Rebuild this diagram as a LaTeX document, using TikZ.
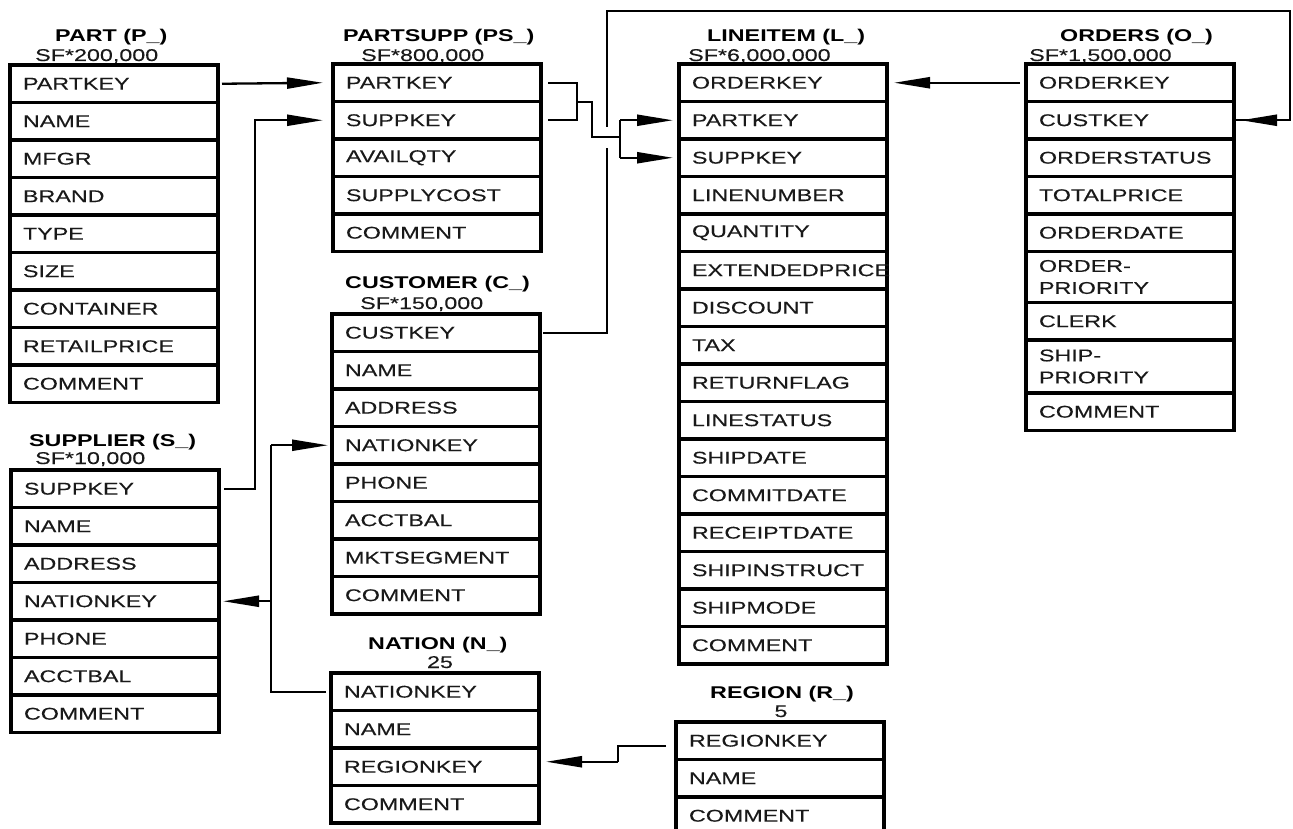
\documentclass[tikz,border=0pt]{standalone}
\usepackage{fontspec}
\newfontfamily\tf[FakeStretch=1.37,FakeBold=0.15]{Liberation Sans}
\newfontfamily\tfb[FakeStretch=1.37]{Liberation Sans Bold}
\usetikzlibrary{arrows.meta,calc}
\tikzset{
  row/.style={draw, line width=3.2pt, rectangle, outer sep=0pt, inner xsep=13pt, inner ysep=0pt,
    minimum height=37.5pt, text width=182pt, align=left, anchor=north west,
    font=\tf\fontsize{17}{22}\selectfont, text=black!90},
  ttl/.style={font=\tfb\fontsize{17}{20}\selectfont, anchor=base west, inner sep=0pt, text=black},
  sf/.style={font=\tf\fontsize{17}{20}\selectfont, anchor=base west, inner sep=0pt, text=black!90},
  conn/.style={line width=2.3pt},
  arr/.style={conn, -{Triangle[length=36pt,width=11pt]}},
}
\newcommand{\dbtable}[4]{%
  \foreach \t [count=\i] in {#4} {\node[row] (#1-\i) at (#2,{#3+(\i-1)*37.5}) {\t};}}
\begin{document}
\begin{tikzpicture}[x=1pt,y=-1pt]
\useasboundingbox (0,0) rectangle (1293,829);
\clip (0,0) rectangle (1293,829);

% PART
\node[ttl] (part-t) at (55,42) {PART (P\_)};
\node[sf] (part-s) at (35,61) {SF*200,000};
\dbtable{part}{10}{65}{PARTKEY,NAME,MFGR,BRAND,TYPE,SIZE,CONTAINER,RETAILPRICE,COMMENT}

% PARTSUPP
\node[ttl] (ps-t) at (343,42) {PARTSUPP (PS\_)};
\node[sf] (ps-s) at (361,61) {SF*800,000};
\dbtable{ps}{333}{64}{PARTKEY,SUPPKEY,AVAILQTY,SUPPLYCOST,COMMENT}

% CUSTOMER
\node[ttl] (cust-t) at (345,288) {CUSTOMER (C\_)};
\node[sf] (cust-s) at (360,309) {SF*150,000};
\dbtable{cust}{332}{314}{CUSTKEY,NAME,ADDRESS,NATIONKEY,PHONE,ACCTBAL,MKTSEGMENT,COMMENT}

% SUPPLIER
\node[ttl] (supp-t) at (29,446) {SUPPLIER (S\_)};
\node[sf] (supp-s) at (35,464) {SF*10,000};
\dbtable{supp}{11}{470}{SUPPKEY,NAME,ADDRESS,NATIONKEY,PHONE,ACCTBAL,COMMENT}

% NATION
\node[ttl] (nat-t) at (368,649) {NATION (N\_)};
\node[sf, anchor=base] (nat-s) at (440,668) {25};
\dbtable{nat}{331}{673}{NATIONKEY,NAME,REGIONKEY,COMMENT}

% LINEITEM
\node[ttl] (li-t) at (707,42) {LINEITEM (L\_)};
\node[sf] (li-s) at (688,61) {SF*6,000,000};
\dbtable{li}{679}{64}{ORDERKEY,PARTKEY,SUPPKEY,LINENUMBER,QUANTITY,EXTENDEDPRICE,DISCOUNT,TAX,RETURNFLAG,LINESTATUS,SHIPDATE,COMMITDATE,RECEIPTDATE,SHIPINSTRUCT,SHIPMODE,COMMENT}

% ORDERS
\node[ttl] (ord-t) at (1060,42) {ORDERS (O\_)};
\node[sf] (ord-s) at (1029,61) {SF*1,500,000};
\node[row] (ord-1) at (1026,64) {ORDERKEY};
\node[row] (ord-2) at (ord-1.south west) {CUSTKEY};
\node[row] (ord-3) at (ord-2.south west) {ORDERSTATUS};
\node[row] (ord-4) at (ord-3.south west) {TOTALPRICE};
\node[row] (ord-5) at (ord-4.south west) {ORDERDATE};
\node[row, minimum height=51pt] (ord-6) at (ord-5.south west) {ORDER-\\PRIORITY};
\node[row] (ord-7) at (ord-6.south west) {CLERK};
\node[row, minimum height=53pt] (ord-8) at (ord-7.south west) {SHIP-\\PRIORITY};
\node[row] (ord-9) at (ord-8.south west) {COMMENT};

% REGION
\node[ttl] (reg-t) at (710,698) {REGION (R\_)};
\node[sf, anchor=base] (reg-s) at (781,717) {5};
\dbtable{reg}{676}{722}{REGIONKEY,NAME,COMMENT}

% ---- connectors ----
% PART.PARTKEY -> PARTSUPP.PARTKEY
\draw[arr] ([xshift=4pt]part-1.east) -- ([xshift=-10pt]ps-1.west);
% SUPPLIER.SUPPKEY -> PARTSUPP.SUPPKEY
\coordinate (b1) at (255,0);
\draw[arr] ([xshift=5pt]supp-1.east) -| (b1 |- ps-2.west) -- ([xshift=-10pt]ps-2.west);

% CUSTOMER.CUSTKEY -> ORDERS.CUSTKEY (drawn first, with a gap where it crosses)
\coordinate (c1) at (607,11);
\coordinate (c2) at (1290,11);
\draw[conn] ([xshift=3pt]cust-1.east) -| (c1) -- (c2) |- (ord-2.east);
\draw[arr] (c2 |- ord-2.east) -- ([xshift=7pt]ord-2.east);
\fill[white] (603,127) rectangle (611,148);

% PARTSUPP keys -> LINEITEM PARTKEY/SUPPKEY
\coordinate (j1) at (577,0);
\coordinate (j2) at (592,102);
\coordinate (j3) at (620,137);
\draw[conn] ([xshift=7pt]ps-1.east) -| (j1 |- ps-2.east) -- ([xshift=7pt]ps-2.east);
\draw[conn] (j1 |- j2) -- (j2) |- (j3);
\draw[conn] (j3 |- li-2.west) -- (j3 |- li-3.west);
\draw[arr] (j3 |- li-2.west) -- ([xshift=-6pt]li-2.west);
\draw[arr] (j3 |- li-3.west) -- ([xshift=-6pt]li-3.west);

% ORDERS.ORDERKEY -> LINEITEM.ORDERKEY
\draw[arr] ([xshift=-6pt]ord-1.west) -- ([xshift=7pt]li-1.east);

% NATION.NATIONKEY -> CUSTOMER.NATIONKEY and SUPPLIER.NATIONKEY
\coordinate (n1) at (271,0);
\draw[conn] ([xshift=-5pt]nat-1.west) -| (n1 |- cust-4.west);
\draw[arr] (n1 |- cust-4.west) -- ([xshift=-4pt]cust-4.west);
\draw[arr] (n1 |- supp-4.east) -- ([xshift=4pt]supp-4.east);

% REGION.REGIONKEY -> NATION.REGIONKEY
\coordinate (r0) at ([xshift=-10pt,yshift=-5pt]reg-1.west);
\coordinate (r3) at ([xshift=7pt,yshift=5pt]nat-3.east);
\coordinate (r1) at (618,0);
\draw[conn] (r0) -- (r1 |- r0) -- (r1 |- r3);
\draw[arr] (r1 |- r3) -- (r3);
\end{tikzpicture}
\end{document}
